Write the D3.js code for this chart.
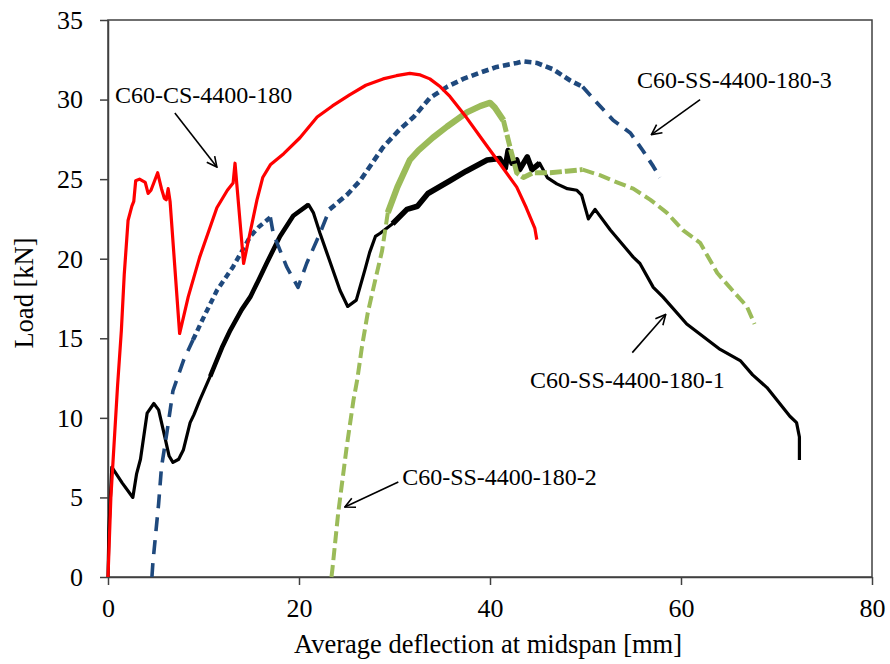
<!DOCTYPE html>
<html>
<head>
<meta charset="utf-8">
<script src="https://cdn.jsdelivr.net/npm/d3@7"></script>
<style>
  body { margin: 0; background: #fff; }
  text { font-family: "Liberation Serif", "Times New Roman", serif; fill: #000; }
</style>
</head>
<body>
<div id="chart"></div>
<script>
// deflection [mm], load [kN]
const csCurve = [[0,0],[0.3,5],[1.0,12],[1.4,15.5],[1.7,19],[2.1,22.4],[2.5,23.3],[2.7,23.6],[2.9,24.9],[3.3,25.0],[3.9,24.8],[4.2,24.1],[4.5,24.3],[5.2,25.4],[5.6,24.4],[5.9,23.8],[6.1,23.7],[6.3,24.4],[6.5,23.6],[7.5,15.3],[8.4,17.6],[9.6,20.1],[11.4,23.2],[12.5,24.3],[13.1,24.75],[13.3,26.0],[14.2,19.7],[15.6,23.7],[16.2,25.1],[17.0,25.9],[18.4,26.6],[20.1,27.6],[21.9,28.9],[23.5,29.6],[25.3,30.3],[27.0,30.9],[28.8,31.3],[30.2,31.5],[31.6,31.65],[32.7,31.55],[33.7,31.3],[34.8,30.8],[35.8,30.2],[37.5,28.9],[39.3,27.4],[41.0,26.0],[42.8,24.5],[43.8,23.2],[44.7,21.9],[44.9,21.2]];

const ss1Curve = [[0,0],[0.1,3],[0.4,6.9],[1.5,5.9],[2.6,5.0],[3.0,6.5],[3.4,7.4],[4.1,10.3],[4.8,10.9],[5.3,10.5],[5.8,9.2],[6.4,7.6],[6.8,7.2],[7.4,7.4],[7.9,8.0],[8.6,9.7],[9.0,10.2],[9.6,11.1],[10.7,12.6],[12.0,14.5],[12.8,15.5],[14.0,16.8],[14.9,17.6],[15.8,18.7],[16.6,19.7],[18.0,21.4],[19.4,22.7],[21.0,23.4],[21.5,22.9],[22.2,21.6],[22.9,20.4],[24.3,18.0],[25.1,17.0],[26.0,17.4],[26.9,19.3],[27.4,20.4],[28.0,21.4],[28.5,21.6],[29.8,22.2],[31.3,23.1],[32.4,23.3],[33.5,24.1],[35.8,24.9],[37.5,25.5],[39.7,26.2],[41.0,26.3],[41.6,25.7],[41.9,26.8],[42.3,26.0],[42.8,26.2],[43.1,25.6],[43.9,26.4],[44.4,25.6],[45.2,26.0],[46.0,25.1],[47.0,24.7],[48.1,24.4],[49.1,24.3],[49.6,24.0],[50.3,22.5],[51.0,23.1],[52.6,21.8],[55.0,20.1],[55.7,19.7],[57.1,18.2],[58.1,17.6],[60.6,15.9],[64.1,14.3],[66.2,13.6],[67.5,12.7],[69.0,11.9],[71.4,10.1],[72.1,9.7],[72.4,8.8],[72.4,7.35]];

const ss2Curve = [[23.4,0],[23.5,0.5],[24.1,4.0],[25.0,8.2],[25.7,11.1],[26.1,12.4],[26.6,14.5],[27.2,16.6],[28.0,18.7],[28.7,20.5],[29.3,22.9],[30.3,24.5],[31.6,26.2],[32.5,26.8],[34.0,27.6],[35.5,28.3],[37.6,29.2],[39.0,29.6],[40.0,29.8],[40.5,29.5],[41.4,28.7],[42.1,27.0],[42.8,25.4],[43.5,25.1],[44.5,25.4],[46.3,25.4],[48.0,25.5],[49.7,25.6],[51.5,25.25],[53.3,24.8],[55.0,24.4],[56.8,23.7],[58.5,22.9],[60.2,21.8],[62.0,21.0],[63.8,19.1],[65.4,18.0],[66.9,17.0],[67.7,15.9]];

const ss3Curve = [[4.6,0],[4.7,0.9],[5.3,4.6],[5.6,6.9],[6.2,9.2],[6.8,11.7],[7.9,13.6],[8.9,14.9],[10.0,16.3],[11.4,18.0],[13.1,19.5],[14.9,21.4],[15.8,22.0],[16.6,22.4],[17.0,22.6],[17.3,21.6],[18.7,19.5],[19.9,18.2],[20.8,19.7],[22.2,21.6],[23.2,23.1],[25.0,24.0],[26.4,24.9],[28.8,27.0],[30.5,28.1],[32.0,28.9],[33.7,30.1],[35.5,30.8],[37.2,31.3],[39.0,31.7],[40.7,32.05],[42.8,32.3],[43.5,32.4],[44.9,32.3],[46.6,31.9],[48.4,31.2],[49.7,30.8],[51.2,29.8],[52.9,28.7],[54.7,27.9],[56.0,26.8],[57.1,25.8],[57.8,25.1]];

const xTicks = [0, 20, 40, 60, 80];
const yTicks = [0, 5, 10, 15, 20, 25, 30, 35];

// label text, text anchor [x,y] and arrow from/to, in data units
const labelNames = ["C60-CS-4400-180", "C60-SS-4400-180-3", "C60-SS-4400-180-1", "C60-SS-4400-180-2"];
const labelAt = [[0.73, 29.8], [55.4, 30.75], [44.2, 11.9], [30.8, 5.8]];
const arrowFrom = [[7.0, 29.15], [62.0, 30.0], [54.9, 14.1], [30.4, 5.97]];
const arrowTo = [[11.4, 25.76], [56.9, 27.8], [58.4, 16.5], [24.8, 4.4]];

const w = 890, h = 664,
    margin = ({ top: 20, right: 18, bottom: 87, left: 108 });

const svg = d3.select("#chart")
  .append("svg")
  .attr("width", w)
  .attr("height", h);

let x = d3.scaleLinear()
  .domain([0, 80])
  .range([margin.left, w - margin.right]);

let y = d3.scaleLinear()
  .domain([0, 35])
  .range([h - margin.bottom, margin.top]);

const axisColor = "#404040";

// frame (top and right sides)
svg.append("rect")
  .attr("x", x(0))
  .attr("y", y(35))
  .attr("width", x(80) - x(0))
  .attr("height", y(0) - y(35))
  .attr("fill", "none")
  .attr("stroke", axisColor)
  .attr("stroke-width", 1.5);

const xAxis = svg.append("g")
  .attr("transform", `translate(0,${y(0)})`)
  .call(d3.axisBottom(x).tickValues(xTicks).tickSize(8).tickSizeOuter(0).tickPadding(14));

const yAxis = svg.append("g")
  .attr("transform", `translate(${x(0)},0)`)
  .call(d3.axisLeft(y).tickValues(yTicks).tickSize(8).tickSizeOuter(0).tickPadding(17));

for (let g of [xAxis, yAxis]) {
  g.select(".domain").attr("stroke", axisColor).attr("stroke-width", 1.5);
  g.selectAll(".tick line").attr("stroke", axisColor).attr("stroke-width", 1.5);
  g.selectAll(".tick text")
    .attr("fill", "#000")
    .style("font-size", "26px")
    .style("font-family", "'Liberation Serif', 'Times New Roman', serif");
}

let line = d3.line()
  .x(d => x(d[0]))
  .y(d => y(d[1]));

// draws the part of a curve between x0 and x1 (the noisy stretches look heavier)
function drawPart(data, x0, x1, color, width, dash) {
  let part = data.filter(d => d[0] >= x0 && d[0] <= x1);
  let p = svg.append("path")
    .datum(part)
    .attr("d", line)
    .attr("fill", "none")
    .attr("stroke", color)
    .attr("stroke-width", width)
    .attr("stroke-linejoin", "round");
  if (dash) p.attr("stroke-dasharray", dash);
}

// C60-SS-4400-180-1
drawPart(ss1Curve, 0, 80, "#000", 3.2);
drawPart(ss1Curve, 10.7, 21.0, "#000", 4.6);
drawPart(ss1Curve, 29.8, 45.5, "#000", 5.6);

// C60-SS-4400-180-2
drawPart(ss2Curve, 0, 29.3, "#9BBB59", 4, "12,5");
drawPart(ss2Curve, 29.3, 41.4, "#9BBB59", 6.2);
drawPart(ss2Curve, 41.4, 50, "#9BBB59", 5, "12,3");
drawPart(ss2Curve, 49.7, 80, "#9BBB59", 4, "12,5");

// C60-SS-4400-180-3
drawPart(ss3Curve, 0, 8.9, "#1F497D", 3.6, "14,9");
drawPart(ss3Curve, 8.9, 17.0, "#1F497D", 4.4, "6,4");
drawPart(ss3Curve, 17.0, 23.2, "#1F497D", 3.6, "14,9");
drawPart(ss3Curve, 23.2, 49.7, "#1F497D", 4.6, "7,4");
drawPart(ss3Curve, 49.7, 80, "#1F497D", 3.8, "12,8");

// C60-CS-4400-180
drawPart(csCurve, 0, 80, "#FF0000", 3.2);

// arrow head
svg.append("defs").append("marker")
  .attr("id", "arrow")
  .attr("viewBox", "0 0 12 12")
  .attr("refX", 11)
  .attr("refY", 6)
  .attr("markerWidth", 12)
  .attr("markerHeight", 12)
  .attr("markerUnits", "userSpaceOnUse")
  .attr("orient", "auto")
  .append("path")
  .attr("d", "M1,1 L11,6 L1,11")
  .attr("fill", "none")
  .attr("stroke", "#000")
  .attr("stroke-width", 1.6);

labelNames.forEach((name, i) => {
  svg.append("text")
    .attr("x", x(labelAt[i][0]))
    .attr("y", y(labelAt[i][1]))
    .style("font-size", "24px")
    .text(name);

  svg.append("line")
    .attr("x1", x(arrowFrom[i][0]))
    .attr("y1", y(arrowFrom[i][1]))
    .attr("x2", x(arrowTo[i][0]))
    .attr("y2", y(arrowTo[i][1]))
    .attr("stroke", "#000")
    .attr("stroke-width", 1.6)
    .attr("marker-end", "url(#arrow)");
});

svg.append("text")      // x axis title
  .attr("x", 488)
  .attr("y", 653)
  .style("text-anchor", "middle")
  .style("font-size", "26.5px")
  .text("Average deflection at midspan [mm]");

svg.append("text")      // y axis title
  .attr("transform", "translate(33,293) rotate(-90)")
  .style("text-anchor", "middle")
  .style("font-size", "26.5px")
  .text("Load [kN]");
</script>
</body>
</html>
